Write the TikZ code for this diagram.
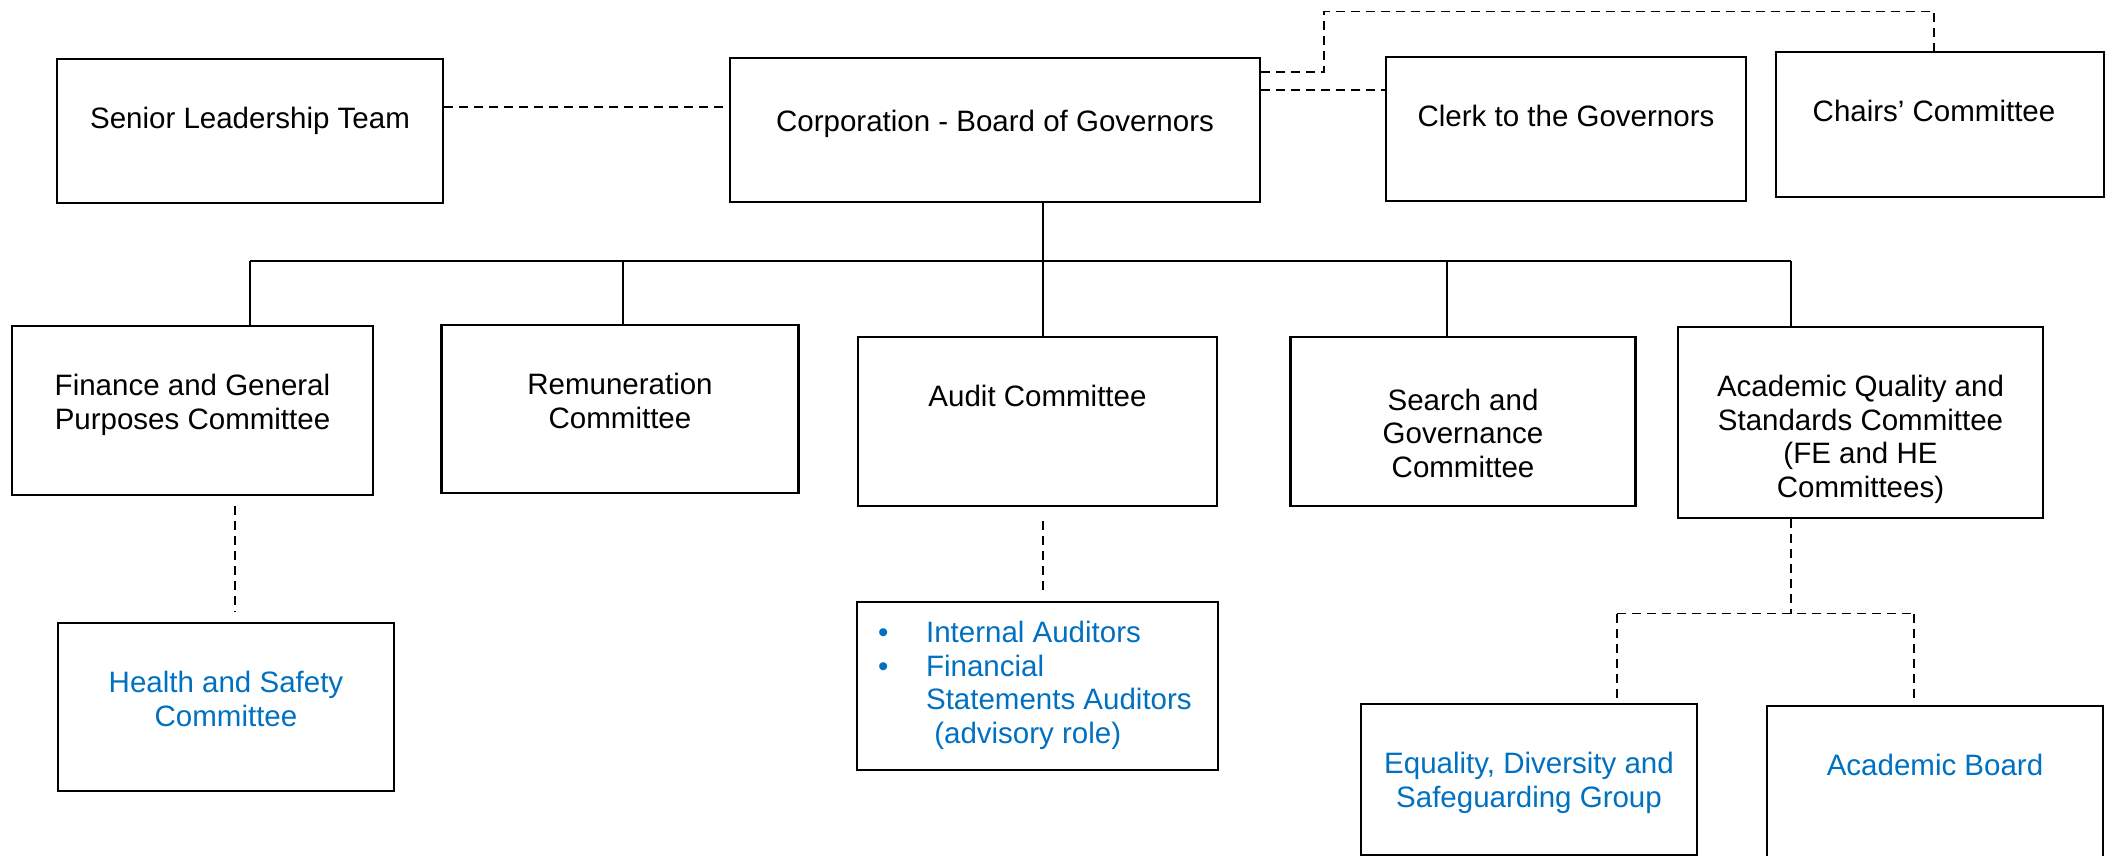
\documentclass[tikz,border=0pt]{standalone}
\usepackage{fontspec}
\setmainfont{Liberation Sans}
\usepackage{tikz}
\usetikzlibrary{positioning}
\definecolor{govblue}{RGB}{0,112,192}

\begin{document}
\begin{tikzpicture}[x=1pt,y=1pt,
    box/.style={draw=black,line width=2.2pt,inner sep=0pt},
    txt/.style={inner sep=0pt,align=center,font=\fontsize{29.5pt}{33.5pt}\selectfont},
    link/.style={draw=black,line width=1.6pt},
    dashlink/.style={draw=black,line width=1.6pt,dash pattern=on 9pt off 6pt}]
          \useasboundingbox (0,0) rectangle (2114,-856);
          % top row
          \node [box,minimum width=386pt,minimum height=144pt] (slt) at (250,-131) {};
          \node [txt,below=49.5pt of slt.north] (slt-t) {Senior Leadership Team};
          \node [box,minimum width=530pt,minimum height=144pt] (corp) at (995,-130) {};
          \node [txt,below=53pt of corp.north] (corp-t) {Corporation - Board of Governors};
          \node [box,minimum width=360pt,minimum height=144pt] (clerk) at (1566,-129) {};
          \node [txt,below=49.5pt of clerk.north] (clerk-t) {Clerk to the Governors};
          \node [box,minimum width=328pt,minimum height=145pt] (chairs) at (1940,-124.5) {};
          \node [txt,below=49.5pt of chairs.north,xshift=-6pt] (chairs-t) {Chairs’ Committee};
          % committees
          \node [box,minimum width=361pt,minimum height=169pt] (fgp) at (192.5,-410.5) {};
          \node [txt,below=49.5pt of fgp.north] (fgp-t) {Finance and General\\Purposes Committee};
          \node [box,minimum width=357pt,minimum height=168pt] (remun) at (620,-409) {};
          \node [txt,below=49.5pt of remun.north] (remun-t) {Remuneration\\Committee};
          \node [box,minimum width=359pt,minimum height=169pt] (audit) at (1037.5,-421.5) {};
          \node [txt,below=49.5pt of audit.north] (audit-t) {Audit Committee};
          \node [box,minimum width=345pt,minimum height=169pt] (search) at (1463,-421.5) {};
          \node [txt,below=53pt of search.north] (search-t) {Search and\\Governance\\Committee};
          \node [box,minimum width=365pt,minimum height=191pt] (aqs) at (1860.5,-422.5) {};
          \node [txt,below=49.5pt of aqs.north] (aqs-t) {Academic Quality and\\Standards Committee\\(FE and HE\\Committees)};
          % sub groups
          \node [box,minimum width=336pt,minimum height=168pt] (hs) at (226,-707) {};
          \node [txt,text=govblue,below=49.5pt of hs.north] (hs-t) {Health and Safety\\Committee};
          \node [box,minimum width=361pt,minimum height=168pt] (auditors) at (1037.5,-686) {};
          \node [txt,text=govblue,align=left,anchor=north west] (auditors-t)
               at ([xshift=22pt,yshift=-20.5pt]auditors.north west)
               {\makebox[48pt][l]{\textbullet}Internal Auditors\\
                \makebox[48pt][l]{\textbullet}Financial\\
                \makebox[48pt][l]{}Statements Auditors\\
                \makebox[48pt][l]{}\ (advisory role)};
          \node [box,minimum width=336pt,minimum height=151pt] (eds) at (1529,-779.5) {};
          \node [txt,text=govblue,below=49.5pt of eds.north] (eds-t) {Equality, Diversity and\\Safeguarding Group};
          \node [box,minimum width=336pt,minimum height=168pt] (acb) at (1935,-790) {};
          \node [txt,text=govblue,below=49.5pt of acb.north] (acb-t) {Academic Board};
          % solid tree
          \coordinate (b1) at (250,-261);
          \coordinate (b2) at (623,-261);
          \coordinate (b3) at (1043,-261);
          \coordinate (b4) at (1447,-261);
          \coordinate (b5) at (1791,-261);
          \draw [link] (corp.south -| b3) -- (b3);
          \draw [link] (b1) -- (b5);
          \draw [link] (b1) -- (b1 |- fgp.north);
          \draw [link] (b2) -- (b2 |- remun.north);
          \draw [link] (b3) -- (b3 |- audit.north);
          \draw [link] (b4) -- (b4 |- search.north);
          \draw [link] (b5) -- (b5 |- aqs.north);
          % dashed links, top
          \draw [dashlink] ([yshift=24pt]slt.east) -- ([yshift=24pt]slt.east -| corp.west);
          \coordinate (up) at (1324,-11.7);
          \coordinate (over) at (1934,-11.7);
          \draw [dashlink] ([yshift=58pt]corp.east) -| (up) -- (over) -- (over |- chairs.north);
          \draw [dashlink] ([yshift=40pt]corp.east) -- ([yshift=40pt]corp.east -| clerk.west);
          % dashed links, bottom
          \coordinate (hs-a) at (235,-506);
          \coordinate (hs-b) at (235,-612);
          \draw [dashlink] (hs-a) -- (hs-b);
          \coordinate (au-a) at (1043,-521);
          \coordinate (au-b) at (1043,-591);
          \draw [dashlink] (au-a) -- (au-b);
          \coordinate (split) at (1791,-613.5);
          \coordinate (split-w) at (1617,-613.5);
          \coordinate (split-e) at (1914,-613.5);
          \draw [dashlink] (aqs.south -| split) -- (split);
          \draw [dashlink] (split-w) -- (split-e);
          \draw [dashlink] (split-w) -- ([yshift=4pt]split-w |- eds.north);
          \draw [dashlink] (split-e) -- ([yshift=6pt]split-e |- acb.north);
\end{tikzpicture}
\end{document}
